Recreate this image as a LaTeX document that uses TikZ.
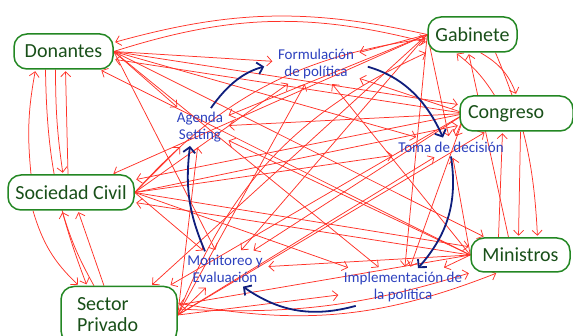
\documentclass[tikz,border=0pt]{standalone}
\usepackage{fontspec}
\setmainfont{Carlito}
\usetikzlibrary{arrows.meta,backgrounds}

\definecolor{linkred}{RGB}{255,50,40}
\definecolor{actgreen}{RGB}{35,135,35}
\definecolor{acttext}{RGB}{25,80,25}
\definecolor{stageblue}{RGB}{45,65,190}
\definecolor{cycblue}{RGB}{15,30,125}

\tikzset{
  actor/.style={draw=actgreen, line width=1.5pt, rounded corners=13pt, fill=white,
    text=acttext, font=\fontsize{20}{21}\selectfont, inner sep=0pt},
  stage/.style={text=stageblue, font=\fontsize{15}{16.5}\selectfont, align=center, inner sep=4pt},
  link/.style={draw=linkred, line width=0.75pt, -{Straight Barb[length=5pt,width=10pt]}, shorten >=1.5pt},
  turn/.style={draw=cycblue, line width=1.8pt, -{Straight Barb[length=5.5pt,width=12pt]}},
}

\begin{document}
\begin{tikzpicture}[x=1pt, y=-1pt]
  \useasboundingbox (0,0) rectangle (573,336);

  % actors
  \node[actor, minimum width=99pt, minimum height=35pt] (don) at (63.5,51.5) {Donantes};
  \node[actor, minimum width=89pt, minimum height=35pt] (gab) at (472.5,34.5) {Gabinete};
  \node[actor, text width=97pt, inner xsep=8pt, minimum height=35pt, align=left] (con) at (516.5,113.5) {Congreso};
  \node[actor, minimum width=126pt, minimum height=35pt] (soc) at (71,192.5) {Sociedad Civil};
  \node[actor, text width=84pt, inner xsep=16pt, minimum height=57pt, align=left] (sec) at (119,315) {Sector\\Privado};
  \node[actor, minimum width=99pt, minimum height=34pt] (min) at (520.5,255) {Ministros};

  % stages of the cycle
  \node[stage] (form) at (316,64) {Formulación\\de política};
  \node[stage] (agen) at (200,127) {Agenda\\Setting};
  \node[stage] (toma) at (451,147) {Toma de decisión};
  \node[stage] (moni) at (225,269) {Monitoreo y\\Evaluación};
  \node[stage] (impl) at (403,287) {Implementación de\\la política};

  % where the links of each actor leave
  \coordinate (don-o) at (don.east);
  \coordinate (gab-o) at (gab.west);
  \coordinate (con-o) at ([xshift=6pt]con.west);
  \coordinate (soc-o) at (soc.east);
  \coordinate (sec-o) at (sec.east);
  \coordinate (min-o) at (min.west);

  \begin{scope}[on background layer]
    % every actor to every stage
    \foreach \a in {don,gab,con,soc,sec,min}
      \foreach \s in {form,agen,toma,moni,impl}
        \draw[link] (\a-o) -- (\s);

    % across the picture
    \foreach \a/\b in {don/con, don/min, con/don, min/don,
                       soc/con, soc/min, con/soc, min/soc,
                       sec/con, con/sec, min/sec, gab/soc, gab/sec}
      \draw[link] (\a-o) -- (\b);
    \draw[link] (soc-o) to[bend left=20] (gab);
    \draw[link] (sec-o) to[bend left=22] (gab);

    % over the top and under the bottom
    \draw[link] (don-o) to[bend left=16] ([yshift=-8pt]gab.west);
    \draw[link] (gab-o) to[bend right=14] ([yshift=9pt]don.east);
    \draw[link] ([yshift=12pt]sec.east) to[bend right=16] ([xshift=-23pt]min.south);
    \draw[link] ([yshift=6pt]sec.east) to[bend right=10] (min.south west);

    % left side
    \draw[link] ([xshift=-40pt]soc.north) to[bend left=8] ([xshift=-28pt]don.south);
    \draw[link] ([xshift=-8pt]don.south) to[bend right=4] ([xshift=-8pt]soc.north);
    \draw[link] ([xshift=-3pt]soc.north) -- ([xshift=2pt]don.south);
    \draw[link] ([xshift=-18pt]don.south) to[bend right=10] ([xshift=-32pt]sec.north);
    \draw[link] ([xshift=-38pt]soc.south) to[bend right=15] ([xshift=-40pt]sec.north);
    \draw[link] ([xshift=-25pt]sec.north) to[bend left=6] ([xshift=-9pt]soc.south);
    \draw[link] ([xshift=-15pt]sec.north) -- ([xshift=7pt]soc.south);

    % right side
    \draw[link] ([xshift=8pt]gab.south) to[bend left=20] (con.north);
    \draw[link] ([xshift=-22pt]con.north) to[bend right=10] ([xshift=-17pt]gab.south);
    \draw[link] ([xshift=23pt]gab.south) to[bend left=10] ([xshift=17pt]min.north);
    \draw[link] ([xshift=-12pt]min.north) -- ([xshift=-4pt]gab.south);
    \draw[link] ([xshift=4pt]con.south) -- ([xshift=-2pt]min.north);
    \draw[link] ([xshift=-22pt]min.north) -- ([xshift=-14pt]con.south);
  \end{scope}

  % the policy cycle
  \draw[turn, shorten >=10pt] (agen.60) to[bend left=20] (form.west);
  \draw[turn, shorten <=10pt] (form.east) to[bend left=25] ([xshift=-8pt]toma.north);
  \draw[turn] (toma.south) to[bend left=25] ([xshift=15pt]impl.north);
  \draw[turn] ([xshift=16pt]impl.south west) to[bend left=25] ([xshift=18pt]moni.south);
  \draw[turn] ([xshift=-20pt]moni.north) to[bend left=15] ([xshift=-10pt]agen.south);

\end{tikzpicture}
\end{document}
